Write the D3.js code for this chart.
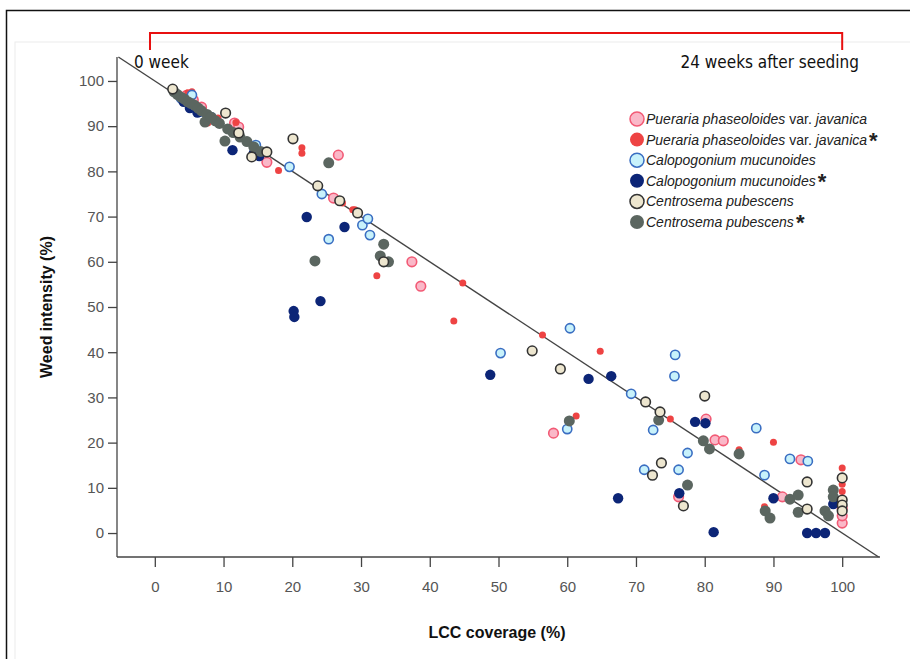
<!DOCTYPE html>
<html>
<head>
<meta charset="utf-8">
<script src="https://cdn.jsdelivr.net/npm/d3@7"></script>
<style>
  body { margin: 0; background: #fff; }
  svg { display: block; font-family: "Liberation Sans", Arial, sans-serif; }
</style>
</head>
<body>
<div id="chart"></div>
<script>
// values: [LCC coverage %, weed intensity %]
var puerariaOpen = [
  [4.6,96.8],[5.6,95.8],[6.8,94.2],[11.6,90.7],[12.2,89.8],[16.3,82.0],[26.7,83.6],[26.0,74.1],
  [37.4,60.0],[38.7,54.6],[58.0,22.1],[80.2,25.2],[81.5,20.6],[82.7,20.4],[76.2,8.0],[94.0,16.2],
  [91.3,8.0],[100,2.2],[100,3.8],[100,5.5]
];
var puerariaStar = [
  [4.8,97.4],[5.4,97.6],[7.7,90.7],[9.2,91.8],[11.8,90.8],[18.0,80.2],[21.4,85.2],[21.4,84.0],
  [27.3,73.0],[28.8,71.5],[29.1,71.5],[32.3,56.9],[44.8,55.3],[43.5,46.9],[56.4,43.8],[64.8,40.2],
  [61.3,25.9],[75.0,25.2],[90.0,20.1],[85.0,18.4],[88.7,5.8],[100,14.4],[100,12.5],[100,10.8],
  [100,9.2],[100,7.5]
];
var calopOpen = [
  [3.8,96.2],[5.4,96.9],[6.6,93.2],[8.2,92.0],[14.7,85.8],[19.6,81.0],[24.3,75.0],[25.3,65.0],
  [30.2,68.1],[31.0,69.5],[31.3,65.9],[50.3,39.8],[60.4,45.3],[75.7,39.4],[75.6,34.7],[69.3,30.8],
  [60.0,23.0],[72.5,22.8],[77.5,17.7],[71.2,14.0],[76.2,14.0],[87.5,23.2],[92.4,16.4],[95.0,15.9],
  [88.7,12.8]
];
var calopStar = [
  [4.2,95.4],[5.1,94.0],[6.2,93.0],[11.3,84.7],[14.4,84.0],[15.2,83.4],[22.1,69.9],[27.6,67.7],
  [24.1,51.3],[20.2,49.1],[20.3,47.8],[48.8,35.0],[63.1,34.1],[66.4,34.7],[78.6,24.6],[80.1,24.3],
  [67.4,7.7],[76.3,8.8],[81.3,0.2],[90.0,7.7],[94.9,0],[96.2,0],[97.5,0],[98.7,6.4]
];
var centroOpen = [
  [2.6,98.2],[10.3,92.9],[12.2,88.5],[14.1,83.2],[16.3,84.3],[20.1,87.2],[23.7,76.8],[26.9,73.5],
  [29.5,70.8],[33.3,60.0],[54.9,40.3],[59.0,36.3],[71.4,29.0],[73.5,26.8],[80.0,30.3],[73.7,15.5],
  [72.4,12.8],[76.9,6.0],[94.9,11.3],[94.9,5.3],[100,12.2],[100,7.3],[100,6.2],[100,4.9]
];
var centroStar = [
  [2.8,97.6],[3.3,97.0],[3.8,96.4],[4.3,96.0],[4.8,95.4],[5.3,95.0],[5.8,94.6],[6.3,94.0],
  [6.8,93.4],[7.3,90.9],[7.6,92.6],[8.2,92.0],[8.8,91.2],[9.4,90.6],[10.2,86.7],[10.6,89.4],
  [11.4,88.6],[12.4,87.6],[13.4,86.6],[14.4,85.4],[15.4,84.4],[25.3,81.9],[23.3,60.2],[33.3,63.9],
  [32.8,61.3],[34.0,60.0],[60.3,24.8],[73.3,25.0],[79.8,20.4],[80.7,18.6],[77.5,10.6],[85.0,17.5],
  [88.8,4.9],[89.5,3.3],[92.4,7.5],[93.6,8.4],[93.6,4.6],[97.5,4.9],[98.0,3.8],[98.7,9.5],[98.7,8.0]
];

// fitted line y = 100 - x, drawn across the plot box
var fitLine = [[-5.3, 105.3], [105.3, -5.3]];

var xTicks = [0,10,20,30,40,50,60,70,80,90,100];
var yTicks = [0,10,20,30,40,50,60,70,80,90,100];

var legendNames = [
  ["Pueraria phaseoloides", "javanica", false],
  ["Pueraria phaseoloides", "javanica", true],
  ["Calopogonium mucunoides", null, false],
  ["Calopogonium mucunoides", null, true],
  ["Centrosema pubescens", null, false],
  ["Centrosema pubescens", null, true]
];

var W = 910, H = 659;
var svg = d3.select("#chart").append("svg").attr("width", W).attr("height", H);

// outer frame and faint inner box
svg.append("rect").attr("x", 15).attr("y", 42).attr("width", 1000).attr("height", 700)
  .attr("fill", "none").attr("stroke", "#ececec");
svg.append("path").attr("d", "M6.5,700V10.5H920").attr("fill", "none")
  .attr("stroke", "#111").attr("stroke-width", 1.5);

var x = d3.scaleLinear().domain([-5.5, 105.5]).range([117, 880]);
var y = d3.scaleLinear().domain([-5.3, 105.3]).range([557, 57]);

// axes
var xAxis = svg.append("g").attr("transform", "translate(0,557)")
  .call(d3.axisBottom(x).tickValues(xTicks).tickSize(10).tickPadding(14));
var yAxis = svg.append("g").attr("transform", "translate(117,0)")
  .call(d3.axisLeft(y).tickValues(yTicks).tickSize(9).tickPadding(4));
[xAxis, yAxis].forEach(function(a) {
  a.select(".domain").attr("stroke", "#444").attr("stroke-width", 1.3);
  a.selectAll(".tick line").attr("stroke", "#444").attr("stroke-width", 1.3);
  a.selectAll(".tick text").attr("fill", "#555").style("font-size", "15px")
    .style("font-family", "'Liberation Sans', Arial, sans-serif");
});
xAxis.select(".domain").attr("d", "M117,0H880");
yAxis.select(".domain").attr("d", "M0,57V557");

svg.append("text").attr("transform", "translate(52,307) rotate(-90)")
  .attr("text-anchor", "middle").style("font-size", "16px").style("font-weight", "bold")
  .attr("fill", "#111").text("Weed intensity (%)");
svg.append("text").attr("x", 497).attr("y", 638)
  .attr("text-anchor", "middle").style("font-size", "16px").style("font-weight", "bold")
  .attr("fill", "#111").text("LCC coverage (%)");

// fitted line
svg.append("path").datum(fitLine)
  .attr("d", d3.line().x(function(d){ return x(d[0]); }).y(function(d){ return y(d[1]); }))
  .attr("stroke", "#444").attr("stroke-width", 1.4).attr("fill", "none");

// red bracket over the time span
var bx0 = x(-0.7), bx1 = x(100);
svg.append("path").attr("d", "M" + bx0 + ",50V33H" + bx1 + "V50")
  .attr("fill", "none").attr("stroke", "#e81010").attr("stroke-width", 2);
svg.append("text").attr("x", 134).attr("y", 68)
  .style("font-family", "'Liberation Sans Narrow', 'DejaVu Sans Condensed', sans-serif")
  .style("font-size", "17px").attr("fill", "#111").text("0 week");
svg.append("text").attr("x", 859).attr("y", 68).attr("text-anchor", "end")
  .style("font-family", "'Liberation Sans Narrow', 'DejaVu Sans Condensed', sans-serif")
  .style("font-size", "17px").attr("fill", "#111").text("24 weeks after seeding");

var styles = [
  {data: puerariaOpen, r: 4.8, fill: "#fab8c8", stroke: "#f25a75", sw: 1.6},
  {data: puerariaStar, r: 3.5, fill: "#ee4343", stroke: "none", sw: 0},
  {data: calopOpen, r: 4.6, fill: "#c8f2fb", stroke: "#3a6ec2", sw: 1.6},
  {data: calopStar, r: 5.2, fill: "#0c2577", stroke: "none", sw: 0},
  {data: centroOpen, r: 4.8, fill: "#ede6cf", stroke: "#333", sw: 1.6},
  {data: centroStar, r: 5.5, fill: "#5b6660", stroke: "none", sw: 0}
];
var drawOrder = [0, 1, 2, 3, 5, 4];

drawOrder.forEach(function(i) {
  var s = styles[i];
  svg.append("g").selectAll("circle").data(s.data).enter().append("circle")
    .attr("cx", function(d){ return x(d[0]); })
    .attr("cy", function(d){ return y(d[1]); })
    .attr("r", s.r)
    .attr("fill", s.fill)
    .attr("stroke", s.stroke)
    .attr("stroke-width", s.sw);
});

// legend
var lg = svg.append("g").attr("transform", "translate(637,119)");
legendNames.forEach(function(n, i) {
  var s = styles[i];
  var row = lg.append("g").attr("transform", "translate(0," + (i * 20.6) + ")");
  row.append("circle").attr("r", 7)
    .attr("fill", s.fill)
    .attr("stroke", s.stroke === "none" ? "none" : s.stroke)
    .attr("stroke-width", 1.5);
  var t = row.append("text").attr("x", 9).attr("y", 5).style("font-size", "14px").attr("fill", "#222");
  t.append("tspan").style("font-style", "italic").text(n[0]);
  if (n[1]) {
    t.append("tspan").text(" var. ");
    t.append("tspan").style("font-style", "italic").text(n[1]);
  }
  if (n[2]) {
    t.append("tspan").attr("dx", 2).attr("dy", 3).style("font-size", "22px")
      .style("font-weight", "bold").text("*");
  }
});
</script>
</body>
</html>
